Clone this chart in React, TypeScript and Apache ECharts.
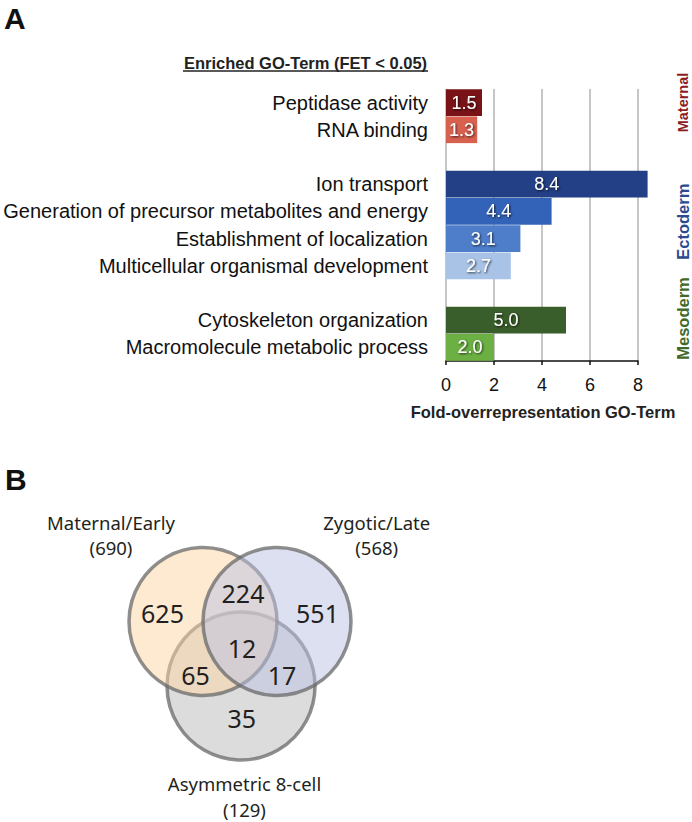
import React, { useEffect, useRef } from "react";
import * as echarts from "echarts";

// ---- Panel A data ----
const categories = [
  "Peptidase activity",
  "RNA binding",
  " ",
  "Ion transport",
  "Generation of precursor metabolites and energy",
  "Establishment of localization",
  "Multicellular organismal development",
  "  ",
  "Cytoskeleton organization",
  "Macromolecule metabolic process",
];
const foldValues: (number | null)[] = [1.5, 1.3, null, 8.4, 4.4, 3.1, 2.7, null, 5.0, 2.0];
const barColors = [
  "#7a1317", "#d8604f", "#ffffff",
  "#233f86", "#3363b8", "#4e7ec9", "#a9c3e6", "#ffffff",
  "#3a5e2b", "#6cb044",
];
const axisMin = 0;
const axisMax = 8;
const axisInterval = 2;
const panelTitle = "Enriched GO-Term (FET < 0.05)";
const axisTitle = "Fold-overrepresentation GO-Term";
const groupLabels = ["Maternal", "Ectoderm", "Mesoderm"];
const groupColors = ["#8b1c1f", "#2c4a8e", "#3f6a2c"];

// ---- Panel B data ----
const vennSets = ["Maternal/Early", "Zygotic/Late", "Asymmetric 8-cell"];
const vennTotals = [690, 568, 129];
// regions: M only, Z only, A only, M∩Z, M∩A, Z∩A, M∩Z∩A
const vennRegionCounts = [625, 551, 35, 224, 65, 17, 12];

// ---- layout (positions / styles only) ----
const GROUP_Y = [102.5, 221.7, 318.5];
const GROUP_SIZE = [14.5, 16.5, 16.5];
const CIRCLES = [
  { cx: 241, cy: 686, r: 74, fill: "rgba(185,185,185,0.5)" }, // Asymmetric (bottom)
  { cx: 203, cy: 621.5, r: 74, fill: "rgba(251,214,163,0.5)" }, // Maternal (left)
  { cx: 277, cy: 621.5, r: 74, fill: "rgba(187,193,228,0.5)" }, // Zygotic (right)
];
const REGION_POS = [
  [162.5, 612.5], [317.5, 612.5], [241.7, 717.5],
  [243, 592.5], [195.5, 675], [282, 675], [242, 647.5],
];
const SET_LABEL_POS = [
  [111, 522.5, 547.5],
  [376.7, 522.5, 547.5],
  [244.5, 783, 809],
];

const FONT = '"Liberation Sans", Arial, sans-serif';
const VFONT = '"Noto Sans", "Open Sans", sans-serif';

function txt(text: string, x: number, y: number, font: string, fill = "#000", align = "center", extra: any = {}) {
  return {
    type: "text",
    x,
    y,
    ...extra,
    style: {
      text,
      x: 0,
      y: 0,
      font,
      fill,
      align,
      textAlign: align,
      verticalAlign: "middle",
      textVerticalAlign: "middle",
    },
  };
}

export default function App() {
  const ref = useRef<HTMLDivElement>(null);
  useEffect(() => {
    if (!ref.current) return;
    const chart = echarts.init(ref.current, undefined, { renderer: "svg" });

    const graphics: any[] = [];
    graphics.push(txt("A", 4, 18.5, `bold 30px ${FONT}`, "#111", "left"));
    graphics.push(txt("B", 5, 479.5, `bold 30px ${FONT}`, "#111", "left"));
    graphics.push(txt(panelTitle, 305.5, 62.5, `bold 16.5px ${FONT}`, "#222"));
    graphics.push({
      type: "line",
      shape: { x1: 183, y1: 71, x2: 428, y2: 71 },
      style: { stroke: "#222", lineWidth: 1.3 },
    });
    graphics.push(txt(axisTitle, 543, 411.7, `bold 16.5px ${FONT}`, "#222"));
    groupLabels.forEach((g, i) => {
      graphics.push(
        txt(g, 683, GROUP_Y[i], `bold ${GROUP_SIZE[i]}px ${FONT}`, groupColors[i], "center", {
          rotation: Math.PI / 2,
        })
      );
    });
    CIRCLES.forEach((c) => {
      graphics.push({
        type: "circle",
        shape: { cx: c.cx, cy: c.cy, r: c.r },
        style: { fill: c.fill, stroke: "rgba(105,105,105,0.75)", lineWidth: 3.5 },
      });
    });
    vennRegionCounts.forEach((v, i) => {
      graphics.push(txt(String(v), REGION_POS[i][0], REGION_POS[i][1], `25px ${VFONT}`, "#231f20"));
    });
    vennSets.forEach((s, i) => {
      const p = SET_LABEL_POS[i];
      graphics.push(txt(s, p[0], p[1], `18.5px ${VFONT}`, "#231f20"));
      graphics.push(txt(`(${vennTotals[i]})`, p[0], p[2], `18.5px ${VFONT}`, "#231f20"));
    });

    chart.setOption({
      animation: false,
      grid: { left: 446, right: 54, top: 89, bottom: 461, containLabel: false },
      xAxis: {
        type: "value",
        min: axisMin,
        max: axisMax,
        interval: axisInterval,
        axisLine: { show: true, lineStyle: { color: "#111", width: 1.5 } },
        axisTick: { show: true, length: 4, lineStyle: { color: "#111", width: 1.5 } },
        axisLabel: { margin: 15, fontFamily: FONT, fontSize: 18, color: "#111" },
        splitLine: { show: true, lineStyle: { color: "#b3b3b3", width: 1.5 } },
      },
      yAxis: {
        type: "category",
        inverse: true,
        data: categories,
        axisLine: { show: false },
        axisTick: { show: false },
        axisLabel: { margin: 18, fontFamily: FONT, fontSize: 20, color: "#111" },
        splitLine: { show: false },
      },
      series: [
        {
          type: "bar",
          clip: false,
          barCategoryGap: "2%",
          data: foldValues.map((v, i) =>
            v === null ? "-" : { value: v, itemStyle: { color: barColors[i] } }
          ),
          label: {
            show: true,
            position: "inside",
            formatter: (p: any) => Number(p.value).toFixed(1),
            color: "#fff",
            fontFamily: FONT,
            fontSize: 18,
            textShadowColor: "rgba(0,0,0,0.75)",
            textShadowBlur: 2,
            textShadowOffsetX: 1,
            textShadowOffsetY: 1,
          },
        },
      ],
      graphic: { elements: graphics },
    });
    return () => chart.dispose();
  }, []);
  return (
    <div
      ref={ref}
      style={{ position: "fixed", left: 0, top: 0, width: 692, height: 822, background: "#fff" }}
    />
  );
}
